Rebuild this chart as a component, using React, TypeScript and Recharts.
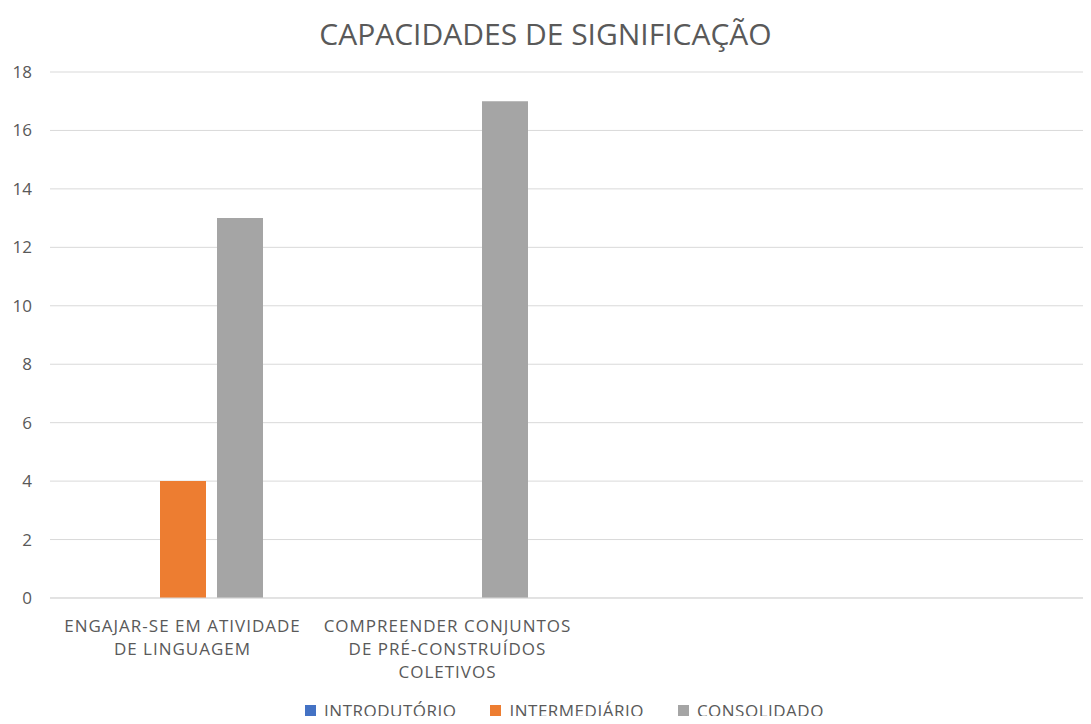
import { BarChart, Bar, XAxis, YAxis, CartesianGrid } from "recharts";

const categories = [
  "ENGAJAR-SE EM ATIVIDADE DE LINGUAGEM",
  "COMPREENDER CONJUNTOS DE PRÉ-CONSTRUÍDOS COLETIVOS",
  "",
  " ",
];
const tickLines = [
  ["ENGAJAR-SE EM ATIVIDADE", "DE LINGUAGEM"],
  ["COMPREENDER CONJUNTOS", "DE PRÉ-CONSTRUÍDOS", "COLETIVOS"],
  [],
  [],
];
const introdutorio = [0, 0, 0, 0];
const intermediario = [4, 0, 0, 0];
const consolidado = [13, 17, 0, 0];
const yTicks = [0, 2, 4, 6, 8, 10, 12, 14, 16, 18];

const series = [
  { key: "introdutorio", name: "INTRODUTÓRIO", color: "#4472C4" },
  { key: "intermediario", name: "INTERMEDIÁRIO", color: "#ED7D31" },
  { key: "consolidado", name: "CONSOLIDADO", color: "#A5A5A5" },
];

const data = categories.map((c, i) => ({
  name: c,
  introdutorio: introdutorio[i],
  intermediario: intermediario[i],
  consolidado: consolidado[i],
}));

const font = "'Open Sans', 'Noto Sans', sans-serif";

const CategoryTick = (props: any) => {
  const { x, y, index } = props;
  const lines = tickLines[index] || [];
  return (
    <text
      x={x}
      y={y}
      textAnchor="middle"
      fill="#595959"
      fontSize={17}
      fontFamily={font}
      letterSpacing={1}
    >
      {lines.map((l: string, i: number) => (
        <tspan key={i} x={x} dy={i === 0 ? 26 : 23}>
          {l}
        </tspan>
      ))}
    </text>
  );
};

export default function App() {
  return (
    <div
      style={{
        position: "relative",
        margin: -8,
        width: 1091,
        height: 724,
        overflow: "hidden",
        background: "#fff",
        fontFamily: font,
      }}
    >
      <div
        style={{
          position: "absolute",
          top: 13,
          left: 0,
          width: 1091,
          textAlign: "center",
          fontSize: 30,
          color: "#595959",
          lineHeight: "41px",
        }}
      >
        CAPACIDADES DE SIGNIFICAÇÃO
      </div>
      <BarChart
        width={1110}
        height={724}
        data={data}
        margin={{ top: 72, right: 0, bottom: 0, left: 0 }}
        barSize={46}
        barGap={11}
      >
        <CartesianGrid vertical={false} stroke="#d9d9d9" />
        <XAxis
          dataKey="name"
          height={126}
          axisLine={{ stroke: "#d9d9d9" }}
          tickLine={false}
          interval={0}
          tick={<CategoryTick />}
        />
        <YAxis
          width={50}
          domain={[0, 18]}
          ticks={yTicks}
          axisLine={false}
          tickLine={false}
          tickMargin={12}
          tick={{ fill: "#595959", fontSize: 17, fontFamily: font }}
        />
        {series.map((s) => (
          <Bar key={s.key} dataKey={s.key} name={s.name} fill={s.color} isAnimationActive={false} />
        ))}
      </BarChart>
      <div
        style={{
          position: "absolute",
          top: 699,
          left: 19,
          width: 1091,
          display: "flex",
          justifyContent: "center",
          gap: 34,
          fontSize: 17,
          lineHeight: "23px",
          letterSpacing: 0.5,
          color: "#595959",
        }}
      >
        {series.map((s) => (
          <div key={s.key} style={{ display: "flex", alignItems: "center", gap: 8 }}>
            <span style={{ width: 11, height: 11, background: s.color, display: "inline-block" }} />
            <span>{s.name}</span>
          </div>
        ))}
      </div>
    </div>
  );
}
